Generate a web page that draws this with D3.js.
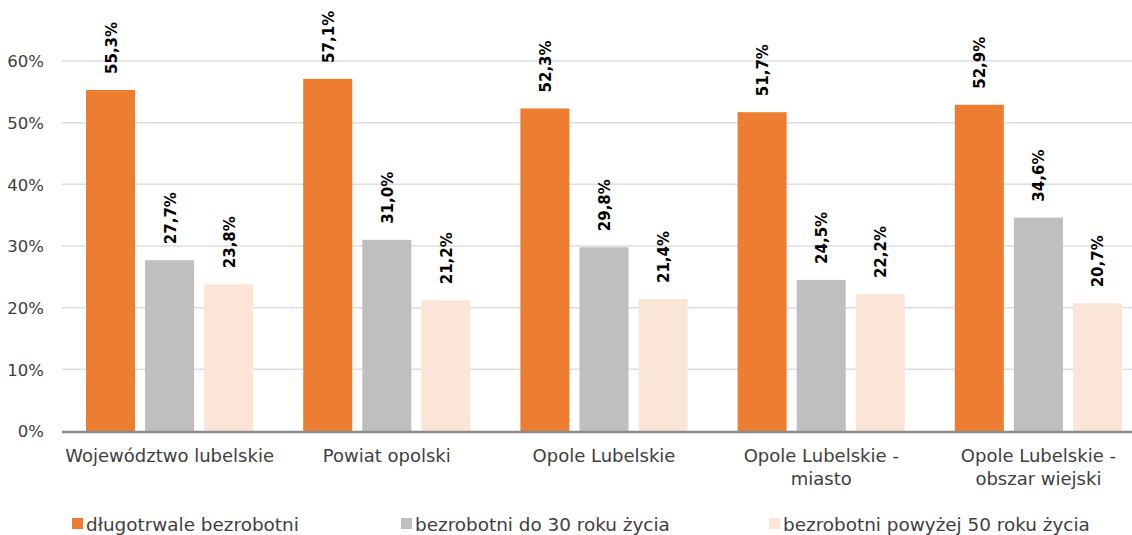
<!DOCTYPE html>
<html><head><meta charset="utf-8">
<script src="https://d3js.org/d3.v7.min.js"></script>
<style>body{margin:0;background:#fff;} svg{display:block;}</style>
</head><body>
<svg id="c" width="1132" height="535"></svg>
<script>
const categories = [["Województwo lubelskie"],["Powiat opolski"],["Opole Lubelskie"],["Opole Lubelskie -","miasto"],["Opole Lubelskie -","obszar wiejski"]];
const seriesNames = ["długotrwale bezrobotni","bezrobotni do 30 roku życia","bezrobotni powyżej 50 roku życia"];
const longTerm = [55.3, 57.1, 52.3, 51.7, 52.9];
const under30 = [27.7, 31.0, 29.8, 24.5, 34.6];
const over50 = [23.8, 21.2, 21.4, 22.2, 20.7];
const colors = ["#ED7D31","#BFBFBF","#FBE5D6"];
const yTicks = [0,10,20,30,40,50,60];
const series = [longTerm, under30, over50];

const font = "'DejaVu Sans',sans-serif";
const svg = d3.select("#c");
const left = 62, right = 1132, bottom = 431;
const y = d3.scaleLinear().domain([0,60]).range([bottom, 61]);
const x0 = d3.scaleBand().domain(d3.range(categories.length)).range([61, 61+5*217.2]);
const x1 = d3.scaleBand().domain(d3.range(3)).range([25, x0.bandwidth()-25]).paddingInner(0.17);

// grid
svg.append("g").selectAll("line").data(yTicks.filter(d=>d>0)).join("line")
  .attr("x1", left).attr("x2", right).attr("y1", d=>y(d)).attr("y2", d=>y(d))
  .attr("stroke","#D9DEE8").attr("stroke-width",1.5);

const yAxis = d3.axisLeft(y).tickValues(yTicks).tickSize(0).tickPadding(18).tickFormat(d=>d+"%");
const ga = svg.append("g").attr("transform",`translate(${left},0)`).call(yAxis);
ga.select(".domain").remove();
ga.selectAll("text").attr("font-family",font).attr("font-size",16.5).attr("fill","#404040").attr("dy","0.35em");

const g = svg.append("g");
series.forEach((vals, si) => {
  g.selectAll(null).data(vals).join("rect")
    .attr("x",(d,i)=>x0(i)+x1(si)).attr("width",x1.bandwidth())
    .attr("y",d=>y(d)).attr("height",d=>bottom-y(d)).attr("fill",colors[si]);
  g.selectAll(null).data(vals).join("text")
    .attr("transform",(d,i)=>`translate(${x0(i)+x1(si)+x1.bandwidth()/2+6},${y(d)-16}) rotate(-90)`)
    .attr("font-family",font).attr("font-weight","bold").attr("font-size",15).attr("fill","#000")
    .text(d=>d.toFixed(1).replace(".",",")+"%");
});

// x axis line
svg.append("line").attr("x1",left).attr("x2",right).attr("y1",bottom+1).attr("y2",bottom+1)
  .attr("stroke","#8C8C8C").attr("stroke-width",2.5);

const xl = svg.append("g");
categories.forEach((lines,i)=>{
  const t = xl.append("text").attr("text-anchor","middle").attr("font-family",font).attr("font-size",18).attr("fill","#404040");
  lines.forEach((ln,k)=>t.append("tspan").attr("x",x0(i)+x0.bandwidth()/2).attr("y",462+k*23).text(ln));
});

// legend
const legX = [72, 401, 769];
const lg = svg.append("g");
seriesNames.forEach((n,i)=>{
  lg.append("rect").attr("x",legX[i]).attr("y",518).attr("width",11).attr("height",11).attr("fill",colors[i]);
  lg.append("text").attr("x",legX[i]+14).attr("y",531).attr("font-family",font).attr("font-size",18.4).attr("fill","#404040").text(n);
});
</script>
</body></html>
